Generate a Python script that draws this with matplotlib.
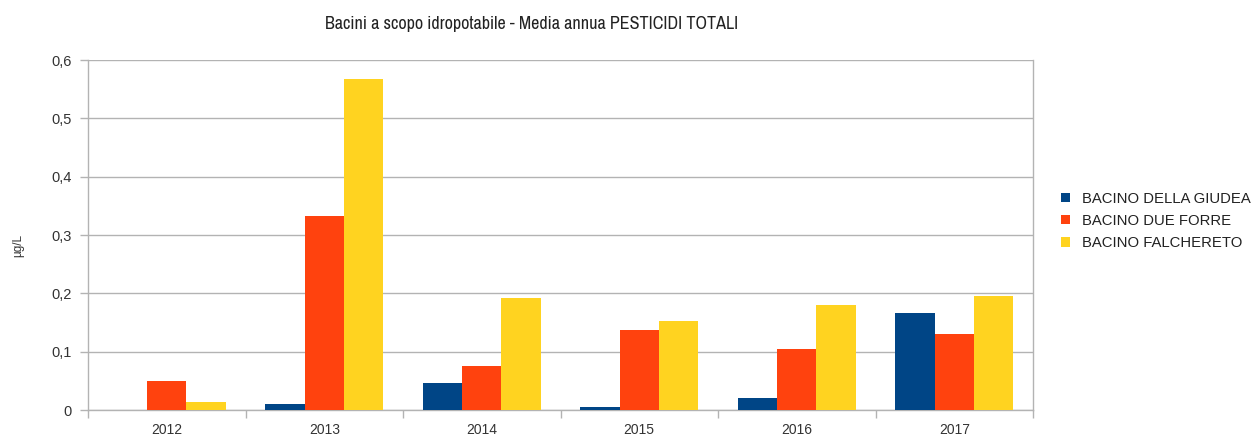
import matplotlib
matplotlib.use("Agg")
import matplotlib.pyplot as plt
import numpy as np
from matplotlib.ticker import FixedLocator, FuncFormatter
from matplotlib import font_manager
from matplotlib.font_manager import FontProperties

plt.rcParams['font.family'] = ['Liberation Sans', 'DejaVu Sans']

years = ["2012", "2013", "2014", "2015", "2016", "2017"]
giudea = [0.0, 0.011, 0.047, 0.006, 0.020, 0.167]
due_forre = [0.049, 0.332, 0.075, 0.137, 0.104, 0.131]
falchereto = [0.014, 0.568, 0.192, 0.153, 0.180, 0.196]
series_names = ["BACINO DELLA GIUDEA", "BACINO DUE FORRE", "BACINO FALCHERETO"]
colors = ["#004586", "#ff420e", "#ffd320"]
title = "Bacini a scopo idropotabile - Media annua PESTICIDI TOTALI"
ylabel = "µg/L"

# look for a narrow / condensed sans font for the title
title_fp = None
title_size = 12
for f in font_manager.fontManager.ttflist:
    nm = f.name + " " + str(f.fname)
    if ('Narrow' in nm) and 'Bold' not in nm and 'Italic' not in nm:
        title_fp = FontProperties(fname=f.fname)
        title_size = 13
        break
if title_fp is None:
    for f in font_manager.fontManager.ttflist:
        nm = f.name + " " + str(f.fname)
        if 'Condensed' in nm and 'Bold' not in nm and 'Italic' not in nm and 'Oblique' not in nm \
                and 'Light' not in nm and 'Semi' not in nm and 'Medium' not in nm:
            title_fp = FontProperties(fname=f.fname)
            title_size = 12.5
            break
if title_fp is None:
    title_fp = FontProperties(family=['Liberation Sans', 'DejaVu Sans'])

fig = plt.figure(figsize=(12.58, 4.36), dpi=100)
ax = fig.add_axes([88/1258, 26/436, (1033-88)/1258, 350/436])

x = np.arange(len(years))
w = 0.25
for i, (vals, name, c) in enumerate(zip([giudea, due_forre, falchereto], series_names, colors)):
    ax.bar(x + (i - 1) * w, vals, width=w, color=c, label=name, zorder=3)

ax.set_xlim(-0.5, len(years) - 0.5)
ax.set_ylim(0, 0.6)
ax.set_yticks(np.arange(0, 0.61, 0.1))
ax.yaxis.set_major_formatter(FuncFormatter(lambda v, p: ("%.1f" % v).replace(".", ",") if v != 0 else "0"))
ax.set_xticks(x)
ax.set_xticklabels(years)
ax.xaxis.set_minor_locator(FixedLocator(np.arange(-0.5, len(years), 1.0)))
ax.tick_params(axis='x', which='major', length=0, labelsize=10, pad=9, colors='#333333')
ax.tick_params(axis='x', which='minor', length=6, color='#b3b3b3', width=1)
ax.tick_params(axis='y', length=6, width=1, labelsize=10.5, pad=6, colors='#333333')
ax.tick_params(axis='y', color='#b3b3b3')
ax.grid(axis='y', color='#b3b3b3', linewidth=1, zorder=0)
ax.spines['top'].set_visible(False)
for s in ['left', 'bottom', 'right']:
    ax.spines[s].set_color('#b3b3b3')
    ax.spines[s].set_linewidth(1)

ax.set_ylabel(ylabel, fontsize=8.5, color='#333333')
ax.yaxis.set_label_coords(-0.0677, 0.47)
fig.text(532/1258, 1 - 24/436, title, ha='center', va='center', fontproperties=title_fp,
         fontsize=title_size, color='#222222')

fig.legend(loc='center left', bbox_to_anchor=(1061/1258, 1 - 221/436), frameon=False,
           fontsize=10.75, handlelength=0.6, handleheight=0.6, handletextpad=0.8,
           labelspacing=0.55, borderaxespad=0, borderpad=0, labelcolor='#222222')

fig.savefig("out.png", dpi=100)
